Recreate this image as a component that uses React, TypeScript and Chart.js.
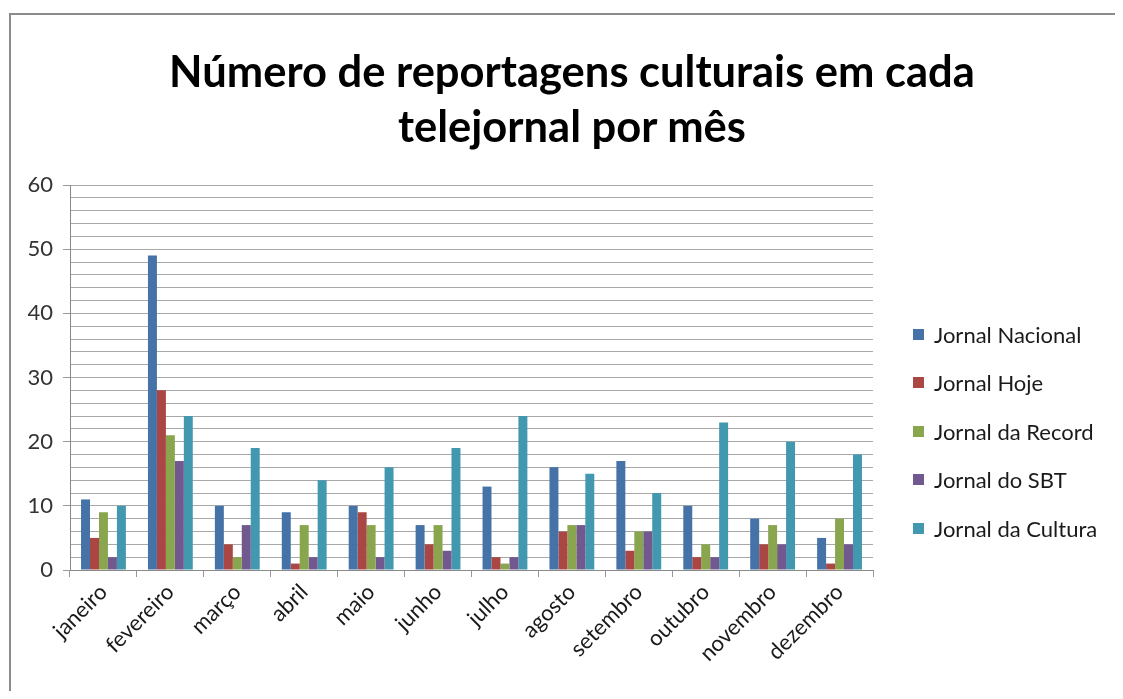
import React, { useEffect, useRef } from "react";
import { Chart, registerables } from "chart.js";

Chart.register(...registerables);

const months = ["janeiro", "fevereiro", "março", "abril", "maio", "junho", "julho", "agosto", "setembro", "outubro", "novembro", "dezembro"];
const jornalNacional = [11, 49, 10, 9, 10, 7, 13, 16, 17, 10, 8, 5];
const jornalHoje = [5, 28, 4, 1, 9, 4, 2, 6, 3, 2, 4, 1];
const jornalRecord = [9, 21, 2, 7, 7, 7, 1, 7, 6, 4, 7, 8];
const jornalSBT = [2, 17, 7, 2, 2, 3, 2, 7, 6, 2, 4, 4];
const jornalCultura = [10, 24, 19, 14, 16, 19, 24, 15, 12, 23, 20, 18];
const seriesNames = ["Jornal Nacional", "Jornal Hoje", "Jornal da Record", "Jornal do SBT", "Jornal da Cultura"];
const seriesColors = ["#4572A7", "#AA4643", "#89A54E", "#71588F", "#4198AF"];
const titleLines = ["Número de reportagens culturais em cada", "telejornal por mês"];

const FONT = "Lato, 'Open Sans', sans-serif";
const W = 1107;
const H = 683;
const CW = 1060;

export default function App() {
  const ref = useRef<HTMLCanvasElement>(null);
  useEffect(() => {
    const values = [jornalNacional, jornalHoje, jornalRecord, jornalSBT, jornalCultura];
    const chart = new Chart(ref.current!, {
      type: "bar",
      data: {
        labels: months,
        datasets: seriesNames.map((n, i) => ({
          label: n,
          data: values[i],
          backgroundColor: seriesColors[i],
          borderWidth: 0,
          barPercentage: 1,
          categoryPercentage: 0.67,
        })),
      },
      options: {
        animation: false,
        responsive: false,
        maintainAspectRatio: false,
        layout: { padding: { left: 0, right: CW - 865, top: 177, bottom: 0 } },
        plugins: {
          legend: { display: false },
          tooltip: { enabled: false },
          title: { display: false },
        },
        scales: {
          x: {
            afterFit: (s: any) => { s.height = H - 562; },
            grid: {
              offset: true,
              drawOnChartArea: false,
              drawTicks: true,
              tickLength: 7,
              color: "#9a9a9a",
            },
            border: { color: "#8a8a8a", width: 1 },
            ticks: {
              maxRotation: 45,
              minRotation: 45,
              color: "#1a1a1a",
              font: { family: FONT, size: 22 },
              padding: 2,
            },
          },
          y: {
            min: 0,
            max: 60,
            afterFit: (s: any) => { s.width = 62; },
            grid: {
              color: "#a8a8a8",
              lineWidth: 1,
              tickLength: 7,
              tickColor: (ctx: any) => (ctx.tick && ctx.tick.value % 10 === 0 ? "#9a9a9a" : "rgba(0,0,0,0)"),
            },
            border: { color: "#8a8a8a", width: 1 },
            ticks: {
              stepSize: 2,
              autoSkip: false,
              color: "#333",
              font: { family: FONT, size: 22 },
              padding: 10,
              callback: (v: any) => (Number(v) % 10 === 0 ? String(v) : ""),
            },
          },
        },
      },
    });
    return () => chart.destroy();
  }, []);

  return (
    <div style={{ position: "relative", width: W, height: H, overflow: "hidden", background: "#fff" }}>
      <div style={{ position: "absolute", left: 1, top: 5, width: 1500, height: 1000, borderTop: "2px solid #8c8c8c", borderLeft: "2px solid #8c8c8c", boxSizing: "border-box" }} />
      <canvas ref={ref} width={CW} height={H} style={{ position: "absolute", left: 0, top: 0, width: CW, height: H }} />
      <div style={{ position: "absolute", left: 0, top: 35, width: 1128, textAlign: "center", fontFamily: FONT, fontWeight: "bold", fontSize: 43.5, lineHeight: "55px", color: "#000" }}>
        {titleLines.map((t) => (
          <div key={t}>{t}</div>
        ))}
      </div>
      <div style={{ position: "absolute", left: 905, top: 302, fontFamily: FONT, fontSize: 22, color: "#1a1a1a" }}>
        {seriesNames.map((n, i) => (
          <div key={n} style={{ display: "flex", alignItems: "center", height: 48.5, whiteSpace: "nowrap" }}>
            <span style={{ display: "inline-block", width: 11, height: 11, background: seriesColors[i], marginRight: 10 }} />
            <span>{n}</span>
          </div>
        ))}
      </div>
    </div>
  );
}
